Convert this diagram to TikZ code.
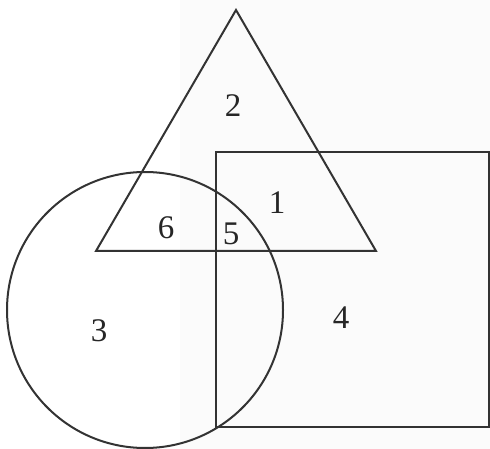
\documentclass[tikz,border=0pt]{standalone}
\usepackage{fontspec}
\setmainfont{Liberation Serif}
\begin{document}
\begin{tikzpicture}[x=1pt,y=-1pt,
  shape line/.style={draw=black!80,line width=2pt,line join=miter},
  lab/.style={font=\fontsize{33}{36}\selectfont,text=black!85,inner sep=0pt}]
\useasboundingbox (0,0) rectangle (490,449);
\fill[black!1.5] (180,0) rectangle (490,449);
% triangle
\coordinate (tA) at (236,10);
\coordinate (tB) at (96,251);
\coordinate (tC) at (376,251);
\draw[shape line] (tA) -- (tB) -- (tC) -- cycle;
% rectangle
\coordinate (r1) at (216,152);
\coordinate (r2) at (489,427);
\draw[shape line] (r1) rectangle (r2);
% circle
\coordinate (cc) at (145,310);
\draw[shape line] (cc) circle[radius=138];
% labels
\node[lab] (n2) at (233,106) {2};
\node[lab] (n1) at (277,203) {1};
\node[lab] (n6) at (166,228) {6};
\node[lab] (n5) at (231,234) {5};
\node[lab] (n3) at (99,331) {3};
\node[lab] (n4) at (341,318) {4};
\end{tikzpicture}
\end{document}
